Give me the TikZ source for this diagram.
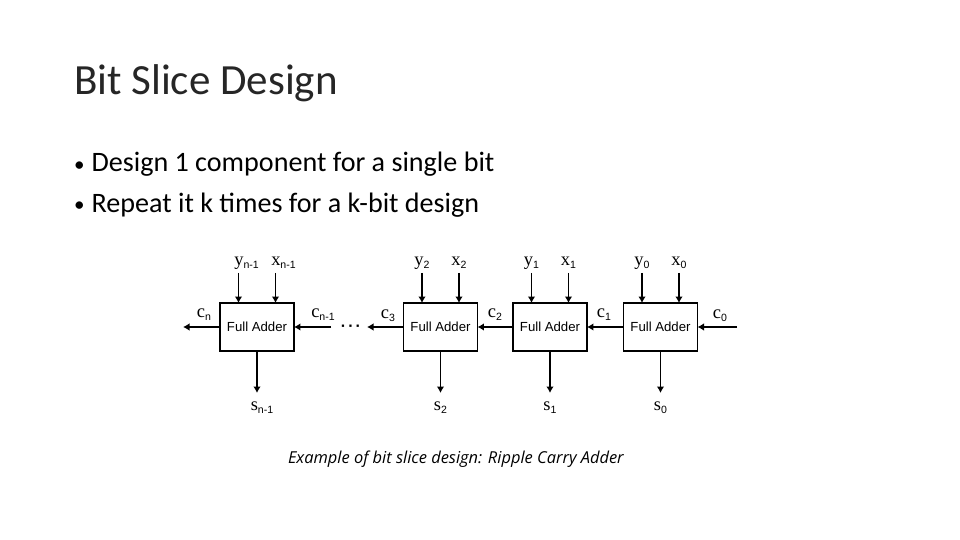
\documentclass[tikz,border=0pt]{standalone}
\usepackage{fontspec}
\usetikzlibrary{arrows.meta}
\setmainfont{Carlito}
\newfontfamily\labelfont{Liberation Serif}
\newfontfamily\subfont{Liberation Sans}
\newfontfamily\capfont{Open Sans}
\newcommand{\sig}[2]{{\labelfont\fontsize{10.5}{11}\selectfont #1}\raisebox{-0.35ex}{\subfont\fontsize{6}{7}\selectfont #2}}
\newcommand{\bul}{\makebox[10pt][l]{\fontsize{12}{12}\selectfont\raisebox{0.5pt}{•}}}
\begin{document}
\begin{tikzpicture}[
    x=0.02cm,y=-0.02cm,
    every node/.style={inner sep=0pt, outer sep=0pt},
    adder/.style={draw=black, line width=0.7pt, minimum width=1.48cm, minimum height=0.96cm, font=\subfont\fontsize{7.5}{9}\selectfont},
    wire/.style={draw=black, line width=0.65pt, -{Latex[length=1.3mm,width=1.5mm]}},
    headline/.style={anchor=base west, font=\fontsize{24.5}{28}\selectfont, text=black!85},
    bullet/.style={anchor=base west, font=\fontsize{16}{18}\selectfont, text=black}
]
    \useasboundingbox[fill=white] (0,0) rectangle (960,540);
    \node[headline] (title) at (74,95) {Bit Slice Design};
    \node[bullet] (line1) at (74,172) {\bul Design 1 component for a single bit};
    \node[bullet] (line2) at (74,212.5) {\bul Repeat it k times for a k-bit design};
    \node[anchor=base west, font=\capfont\itshape\fontsize{9.35}{11}\selectfont, text=black] (caption) at (288,463) {Example of bit slice design: Ripple Carry Adder};

    \node[adder] (fan) at (257,327) {Full Adder};
    \node[adder] (fa2) at (440.5,327) {Full Adder};
    \node[adder] (fa1) at (550,327) {Full Adder};
    \node[adder] (fa0) at (660.5,327) {Full Adder};

    \foreach \name/\idx/\dx/\ds in {fan/n-1/8/5,fa2/2/0/0,fa1/1/0/0,fa0/0/0/0} {
        \coordinate (\name y) at ([xshift=-0.37cm]\name.north |- 0,273);
        \coordinate (\name x) at ([xshift=0.37cm]\name.north |- 0,273);
        \coordinate (\name s) at (\name.south |- 0,393);
        \draw[wire] (\name y) -- (\name y |- \name.north);
        \draw[wire] (\name x) -- (\name x |- \name.north);
        \draw[wire] (\name.south) -- (\name s);
        \node[anchor=base] (\name ylabel) at ([xshift=\dx*0.02cm,yshift=0.14cm]\name y) {\sig{y}{\idx}};
        \node[anchor=base] (\name xlabel) at ([xshift=\dx*0.02cm,yshift=0.14cm]\name x) {\sig{x}{\idx}};
        \node[anchor=base] (\name slabel) at ([xshift=\ds*0.02cm,yshift=-0.36cm]\name s) {\sig{s}{\idx}};
    }

    \coordinate (cnout) at (183,327);
    \coordinate (cnin) at (331,327);
    \coordinate (c3out) at (367,327);
    \coordinate (c0in) at (737,327);
    \draw[wire] (fan.west) -- (cnout);
    \draw[wire] (cnin) -- (fan.east);
    \draw[wire] (fa2.west) -- (c3out);
    \draw[wire] (fa1.west) -- (fa2.east);
    \draw[wire] (fa0.west) -- (fa1.east);
    \draw[wire] (c0in) -- (fa0.east);
    \node[font=\subfont\bfseries\fontsize{9}{10}\selectfont] (dots) at (351,328) {·\hspace{1.2pt}·\hspace{1.2pt}·};

    \node (cnlabel) at (204,315) {\sig{c}{n}};
    \node (cn1label) at (323,315) {\sig{c}{n-1}};
    \node (c3label) at (388,316) {\sig{c}{3}};
    \node (c2label) at (495,315) {\sig{c}{2}};
    \node (c1label) at (604,315) {\sig{c}{1}};
    \node (c0label) at (720,316) {\sig{c}{0}};
\end{tikzpicture}
\end{document}
